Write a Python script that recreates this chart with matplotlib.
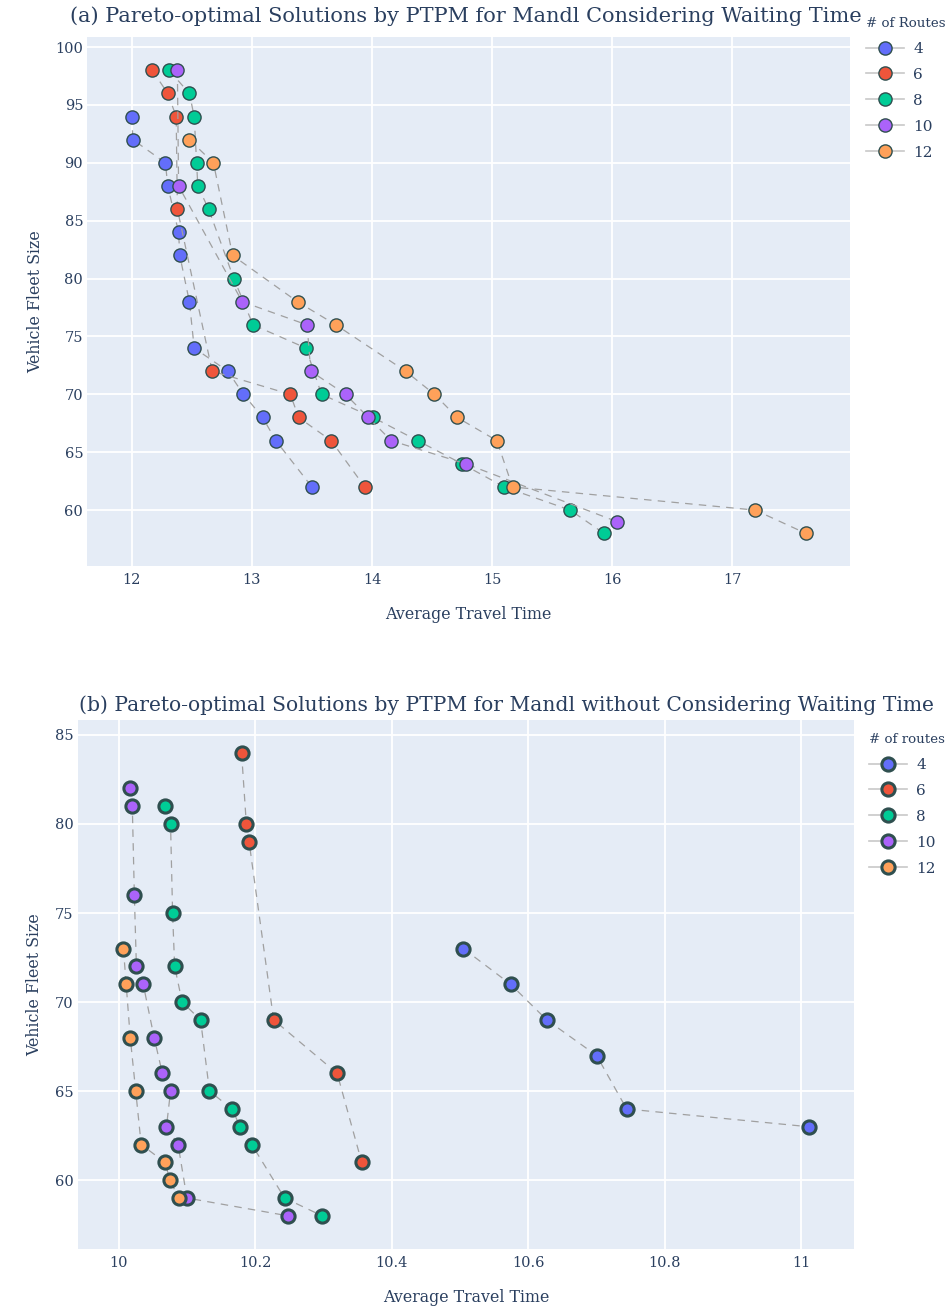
import matplotlib
matplotlib.use('Agg')
import matplotlib.pyplot as plt
from matplotlib.lines import Line2D

plt.rcParams['font.family'] = ['DejaVu Serif']

route_counts = [4, 6, 8, 10, 12]
colors = ['#636efa', '#EF553B', '#00cc96', '#ab63fa', '#FFA15A']

# (a) considering waiting time: (average travel time, fleet size)
a_time = {
    4: [12.0, 12.01, 12.28, 12.30, 12.39, 12.40, 12.48, 12.52, 12.80, 12.93, 13.09, 13.20, 13.50],
    6: [12.17, 12.30, 12.37, 12.38, 12.67, 13.32, 13.39, 13.66, 13.94],
    8: [12.31, 12.48, 12.52, 12.54, 12.55, 12.64, 12.85, 13.01, 13.45, 13.58, 14.01, 14.38, 14.75, 15.10, 15.65, 15.93],
    10: [12.38, 12.39, 12.92, 13.46, 13.49, 13.78, 13.97, 14.16, 14.78, 16.04],
    12: [12.48, 12.68, 12.84, 13.38, 13.70, 14.28, 14.52, 14.71, 15.04, 15.17, 17.19, 17.61],
}
a_fleet = {
    4: [94, 92, 90, 88, 84, 82, 78, 74, 72, 70, 68, 66, 62],
    6: [98, 96, 94, 86, 72, 70, 68, 66, 62],
    8: [98, 96, 94, 90, 88, 86, 80, 76, 74, 70, 68, 66, 64, 62, 60, 58],
    10: [98, 88, 78, 76, 72, 70, 68, 66, 64, 59],
    12: [92, 90, 82, 78, 76, 72, 70, 68, 66, 62, 60, 58],
}

# (b) without considering waiting time
b_time = {
    4: [10.505, 10.574, 10.627, 10.700, 10.744, 11.011],
    6: [10.180, 10.187, 10.191, 10.227, 10.320, 10.356],
    8: [10.068, 10.076, 10.079, 10.082, 10.093, 10.120, 10.133, 10.166, 10.178, 10.195, 10.243, 10.298],
    10: [10.016, 10.020, 10.023, 10.026, 10.036, 10.052, 10.064, 10.076, 10.070, 10.087, 10.100, 10.248],
    12: [10.007, 10.011, 10.017, 10.025, 10.033, 10.068, 10.075, 10.088],
}
b_fleet = {
    4: [73, 71, 69, 67, 64, 63],
    6: [84, 80, 79, 69, 66, 61],
    8: [81, 80, 75, 72, 70, 69, 65, 64, 63, 62, 59, 58],
    10: [82, 81, 76, 72, 71, 68, 66, 65, 63, 62, 59, 58],
    12: [73, 71, 68, 65, 62, 61, 60, 59],
}

text_color = '#2a3f5f'
fig = plt.figure(figsize=(9.52, 13.1), dpi=100)
ax1 = fig.add_axes([0.0917, 0.5682, 0.8012, 0.4038])
ax2 = fig.add_axes([0.0816, 0.0466, 0.8155, 0.4038])


def style_axis(ax):
    ax.set_facecolor('#E5ECF6')
    ax.grid(True, color='white', linewidth=1.3)
    ax.set_axisbelow(True)
    for s in ax.spines.values():
        s.set_visible(False)
    ax.tick_params(length=0, labelsize=10.5, labelcolor=text_color)
    ax.tick_params(axis='x', pad=5)
    ax.tick_params(axis='y', pad=3)


def draw(ax, xs, ys, edge_w, legend_title, legend_pos):
    for n, c in zip(route_counts, colors):
        ax.plot(xs[n], ys[n], color='#a0a0a0', linewidth=0.9, dashes=(6, 5),
                marker='o', markersize=9.5, markerfacecolor=c,
                markeredgecolor='#2F4F4F', markeredgewidth=edge_w, zorder=3)
    handles = [Line2D([0], [0], color='#c8c8c8', linewidth=1.2, marker='o',
                      markersize=9.5, markerfacecolor=c, markeredgecolor='#2F4F4F',
                      markeredgewidth=edge_w) for c in colors]
    leg = ax.legend(handles, [str(n) for n in route_counts], title=legend_title,
                    loc='upper left', bbox_to_anchor=legend_pos,
                    bbox_transform=fig.transFigure, frameon=False,
                    borderpad=0, borderaxespad=0, alignment='left',
                    fontsize=11, title_fontsize=9.6, handlelength=2.5,
                    handletextpad=0.6, labelspacing=0.78, labelcolor=text_color)
    leg.get_title().set_color(text_color)
    ax.set_xlabel('Average Travel Time', fontsize=11.4, color=text_color, labelpad=14)
    ax.set_ylabel('Vehicle Fleet Size', fontsize=11.4, color=text_color, labelpad=8)


style_axis(ax1)
draw(ax1, a_time, a_fleet, 1.0, '# of Routes', (866 / 952, 1 - 17 / 1310))
ax1.set_xlim(11.63, 17.98)
ax1.set_ylim(55.2, 100.9)
ax1.set_xticks([12, 13, 14, 15, 16, 17])
ax1.set_yticks([60, 65, 70, 75, 80, 85, 90, 95, 100])
fig.text(466 / 952, 1 - 16 / 1310,
         '(a) Pareto-optimal Solutions by PTPM for Mandl Considering Waiting Time',
         fontsize=15, color=text_color, ha='center', va='center')

style_axis(ax2)
draw(ax2, b_time, b_fleet, 2.2, '# of routes', (869 / 952, 1 - 733 / 1310))
ax2.set_xlim(9.94, 11.077)
ax2.set_ylim(56.14, 85.84)
ax2.set_xticks([10, 10.2, 10.4, 10.6, 10.8, 11])
ax2.set_xticklabels(['10', '10.2', '10.4', '10.6', '10.8', '11'])
ax2.set_yticks([60, 65, 70, 75, 80, 85])
fig.text(506 / 952, 1 - 705 / 1310,
         '(b) Pareto-optimal Solutions by PTPM for Mandl without Considering Waiting Time',
         fontsize=14.6, color=text_color, ha='center', va='center')

fig.savefig('out.png', dpi=100, facecolor='white')
